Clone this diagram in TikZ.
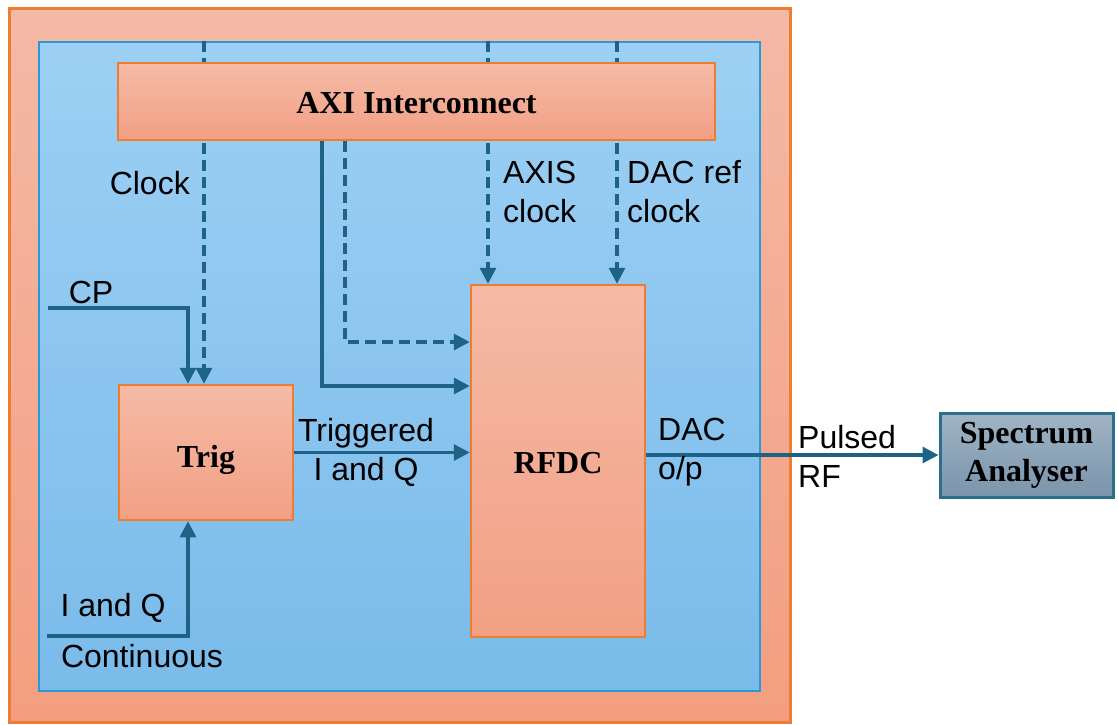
\documentclass[tikz,border=0pt]{standalone}
\usepackage{fontspec}
\setmainfont{Liberation Serif}
\newfontfamily\labelfont{Liberation Sans}
\usetikzlibrary{arrows.meta,backgrounds}

\definecolor{arrowBlue}{RGB}{30,98,133}
\definecolor{orangeLine}{RGB}{237,125,49}
\definecolor{outerTop}{RGB}{244,185,166}
\definecolor{outerBot}{RGB}{243,158,128}
\definecolor{blueTop}{RGB}{157,208,244}
\definecolor{blueBot}{RGB}{122,187,234}
\definecolor{blueLine}{RGB}{40,155,215}
\definecolor{boxTop}{RGB}{245,186,166}
\definecolor{boxBot}{RGB}{242,160,132}
\definecolor{saTop}{RGB}{160,180,197}
\definecolor{saBot}{RGB}{122,148,171}
\definecolor{saLine}{RGB}{45,110,140}

\begin{document}
\begin{tikzpicture}[x=1pt, y=-1pt,
    boardStyle/.style={draw=orangeLine, line width=3pt, top color=outerTop, bottom color=outerBot, inner sep=0pt},
    fabricStyle/.style={draw=blueLine, line width=2.5pt, top color=blueTop, bottom color=blueBot, inner sep=0pt},
    blockStyle/.style={draw=orangeLine, line width=2.5pt, top color=boxTop, bottom color=boxBot, inner sep=0pt, font=\fontsize{32}{36}\selectfont\bfseries},
    analyserStyle/.style={draw=saLine, line width=3pt, top color=saTop, bottom color=saBot, inner sep=0pt, align=center, font=\fontsize{32}{38}\selectfont\bfseries},
    labelStyle/.style={inner sep=0pt, font=\labelfont\fontsize{32}{39}\selectfont},
    arrowStyle/.style={draw=arrowBlue, line width=3.3pt, -{Triangle[length=16pt,width=16pt]}},
    dashStyle/.style={arrowStyle, dash pattern=on 11pt off 6pt}]
    \useasboundingbox (0,0) rectangle (1118,724);

    \node[blockStyle, minimum width=597pt, minimum height=77pt] (axi) at (416.5,101.5) {\raisebox{-2pt}[\height][\depth]{AXI Interconnect}};
    \node[blockStyle, minimum width=174pt, minimum height=135pt] (trig) at (206,452.5) {\raisebox{-7pt}[\height][\depth]{Trig}};
    \node[blockStyle, minimum width=174pt, minimum height=352pt] (rfdc) at (558,461) {\raisebox{-2pt}[\height][\depth]{RFDC}};
    \node[analyserStyle, minimum width=173pt, minimum height=84pt] (sa) at (1026.5,455) {Spectrum\\Analyser};

    \coordinate (clkIn) at ([xshift=-2pt]trig.north);
    \coordinate (axisIn) at ([xshift=-70pt]rfdc.north);
    \coordinate (refIn) at ([xshift=59pt]rfdc.north);

    \begin{pgfonlayer}{background}
        \node[boardStyle, minimum width=781pt, minimum height=714pt] (board) at (399.5,365) {};
        \node[fabricStyle, minimum width=721pt, minimum height=649pt] (fabric) at (399.5,366.5) {};
        % clocks pass under the interconnect
        \draw[dashStyle] (fabric.north -| clkIn) -- (clkIn);
        \draw[dashStyle] (fabric.north -| axisIn) -- (axisIn);
        \draw[dashStyle] (fabric.north -| refIn) -- (refIn);
    \end{pgfonlayer}

    \coordinate (cpIn) at (48,308);
    \coordinate (iqIn) at (47,636);
    \draw[arrowStyle] (cpIn) -| ([xshift=-18pt]trig.north);
    \draw[arrowStyle] (iqIn) -| ([xshift=-18pt]trig.south);
    \draw[arrowStyle] ([xshift=-94.5pt]axi.south) |- ([yshift=75pt]rfdc.west);
    \draw[dashStyle] ([xshift=-71.5pt]axi.south) |- ([yshift=119pt]rfdc.west);
    \draw[arrowStyle] (trig.east) -- (trig.east -| rfdc.west);
    \draw[arrowStyle] (sa.west -| rfdc.east) -- (sa.west);

    \node[labelStyle, anchor=east] (clkLbl) at (190,183) {Clock};
    \node[labelStyle, anchor=west, align=left] (axisLbl) at (503,192) {AXIS\\clock};
    \node[labelStyle, anchor=west, align=left] (refLbl) at (627,192) {DAC ref\\clock};
    \node[labelStyle] (cpLbl) at (91,292) {CP};
    \node[labelStyle] (iqLbl) at (113,608) {I and Q};
    \node[labelStyle] (contLbl) at (142,656) {Continuous};
    \node[labelStyle, align=center] (trigLbl) at (366,452) {Triggered\\I and Q};
    \node[labelStyle, anchor=west, align=left] (dacLbl) at (658,452) {DAC\\o/p};
    \node[labelStyle, anchor=west, align=left] (rfLbl) at (798,456) {Pulsed\\RF};
\end{tikzpicture}
\end{document}
